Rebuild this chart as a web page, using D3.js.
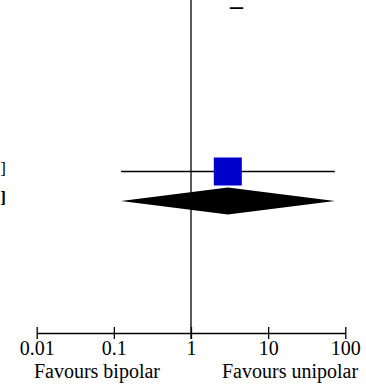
<!DOCTYPE html>
<html><head><meta charset="utf-8">
<script src="https://cdn.jsdelivr.net/npm/d3@7"></script>
<style>body{margin:0;background:#fff}svg{display:block}svg text{font-family:'Liberation Serif','Times New Roman',serif;fill:#000}</style>
</head><body>
<svg id="c" width="366" height="387"></svg>
<script>
const tickValues = [0.01, 0.1, 1, 10, 100];
const tickLabels = ["0.01", "0.1", "1", "10", "100"];
const studyLabels = ["3.00 [0.12, 73.10]"];
const studyEstimates = [3.0];
const studyLower = [0.124];
const studyUpper = [73.1];
const summaryLabel = ["3.00 [0.12, 73.10]"];
const summaryEstimate = [3.0];
const summaryLower = [0.124];
const summaryUpper = [73.1];
const directionLabels = ["Favours bipolar", "Favours unipolar"];

const svg = d3.select("#c");
const x = d3.scaleLog().domain([0.01, 100]).range([36.7, 345.3]);
const rows = d3.scaleOrdinal().domain(["study", "summary"]).range([171.5, 201]);
const font = "'Liberation Serif', 'Times New Roman', serif";

// top partial glyph
svg.append("text").attr("x", 236.5).attr("y", 14).attr("text-anchor", "middle")
  .style("font-family", font).attr("font-size", 26).attr("font-weight", "bold").text("–");

// null line
svg.append("line").attr("x1", x(1)).attr("x2", x(1)).attr("y1", 0).attr("y2", 339)
  .attr("stroke", "#000").attr("stroke-width", 1.3);

// axis
const axis = d3.axisBottom(x).tickValues(tickValues).tickFormat((d, i) => tickLabels[i]).tickSize(0);
const ag = svg.append("g").attr("transform", "translate(0,333)").call(axis);
ag.attr("font-family", null).attr("font-size", null);
ag.select(".domain").attr("stroke", "#000").attr("stroke-width", 1.3);
ag.selectAll(".tick text").style("font-family", font).attr("font-size", 20).attr("fill", "#000").attr("dy", 0).attr("y", 22);
ag.selectAll(".tick").append("line").attr("y1", -6).attr("y2", 6).attr("stroke", "#000").attr("stroke-width", 1.3);

// direction labels
svg.append("text").attr("x", x(1) - 31).attr("y", 378).attr("text-anchor", "end")
  .style("font-family", font).attr("font-size", 20).text(directionLabels[0]);
svg.append("text").attr("x", x(1) + 31).attr("y", 378).attr("text-anchor", "start")
  .style("font-family", font).attr("font-size", 20).text(directionLabels[1]);

// study rows
studyEstimates.forEach((e, i) => {
  const y = rows("study");
  svg.append("line").attr("x1", x(studyLower[i])).attr("x2", x(studyUpper[i]))
    .attr("y1", y).attr("y2", y).attr("stroke", "#000").attr("stroke-width", 1.3);
  const s = 28;
  svg.append("rect").attr("x", x(e) - s / 2).attr("y", y - s / 2).attr("width", s).attr("height", s)
    .attr("fill", "#0000CC");
  svg.append("text").attr("x", 6).attr("y", y + 2).attr("text-anchor", "end")
    .style("font-family", font).attr("font-size", 17).text(studyLabels[i]);
});

// summary diamond
summaryEstimate.forEach((e, i) => {
  const y = rows("summary");
  const h = 13.5;
  const pts = [[x(summaryLower[i]), y], [x(e), y - h], [x(summaryUpper[i]), y], [x(e), y + h]];
  svg.append("path").attr("d", d3.line()(pts) + "Z").attr("fill", "#000");
  svg.append("text").attr("x", 6).attr("y", y + 2).attr("text-anchor", "end")
    .style("font-family", font).attr("font-size", 17).attr("font-weight", "bold").text(summaryLabel[i]);
});
</script>
</body></html>
